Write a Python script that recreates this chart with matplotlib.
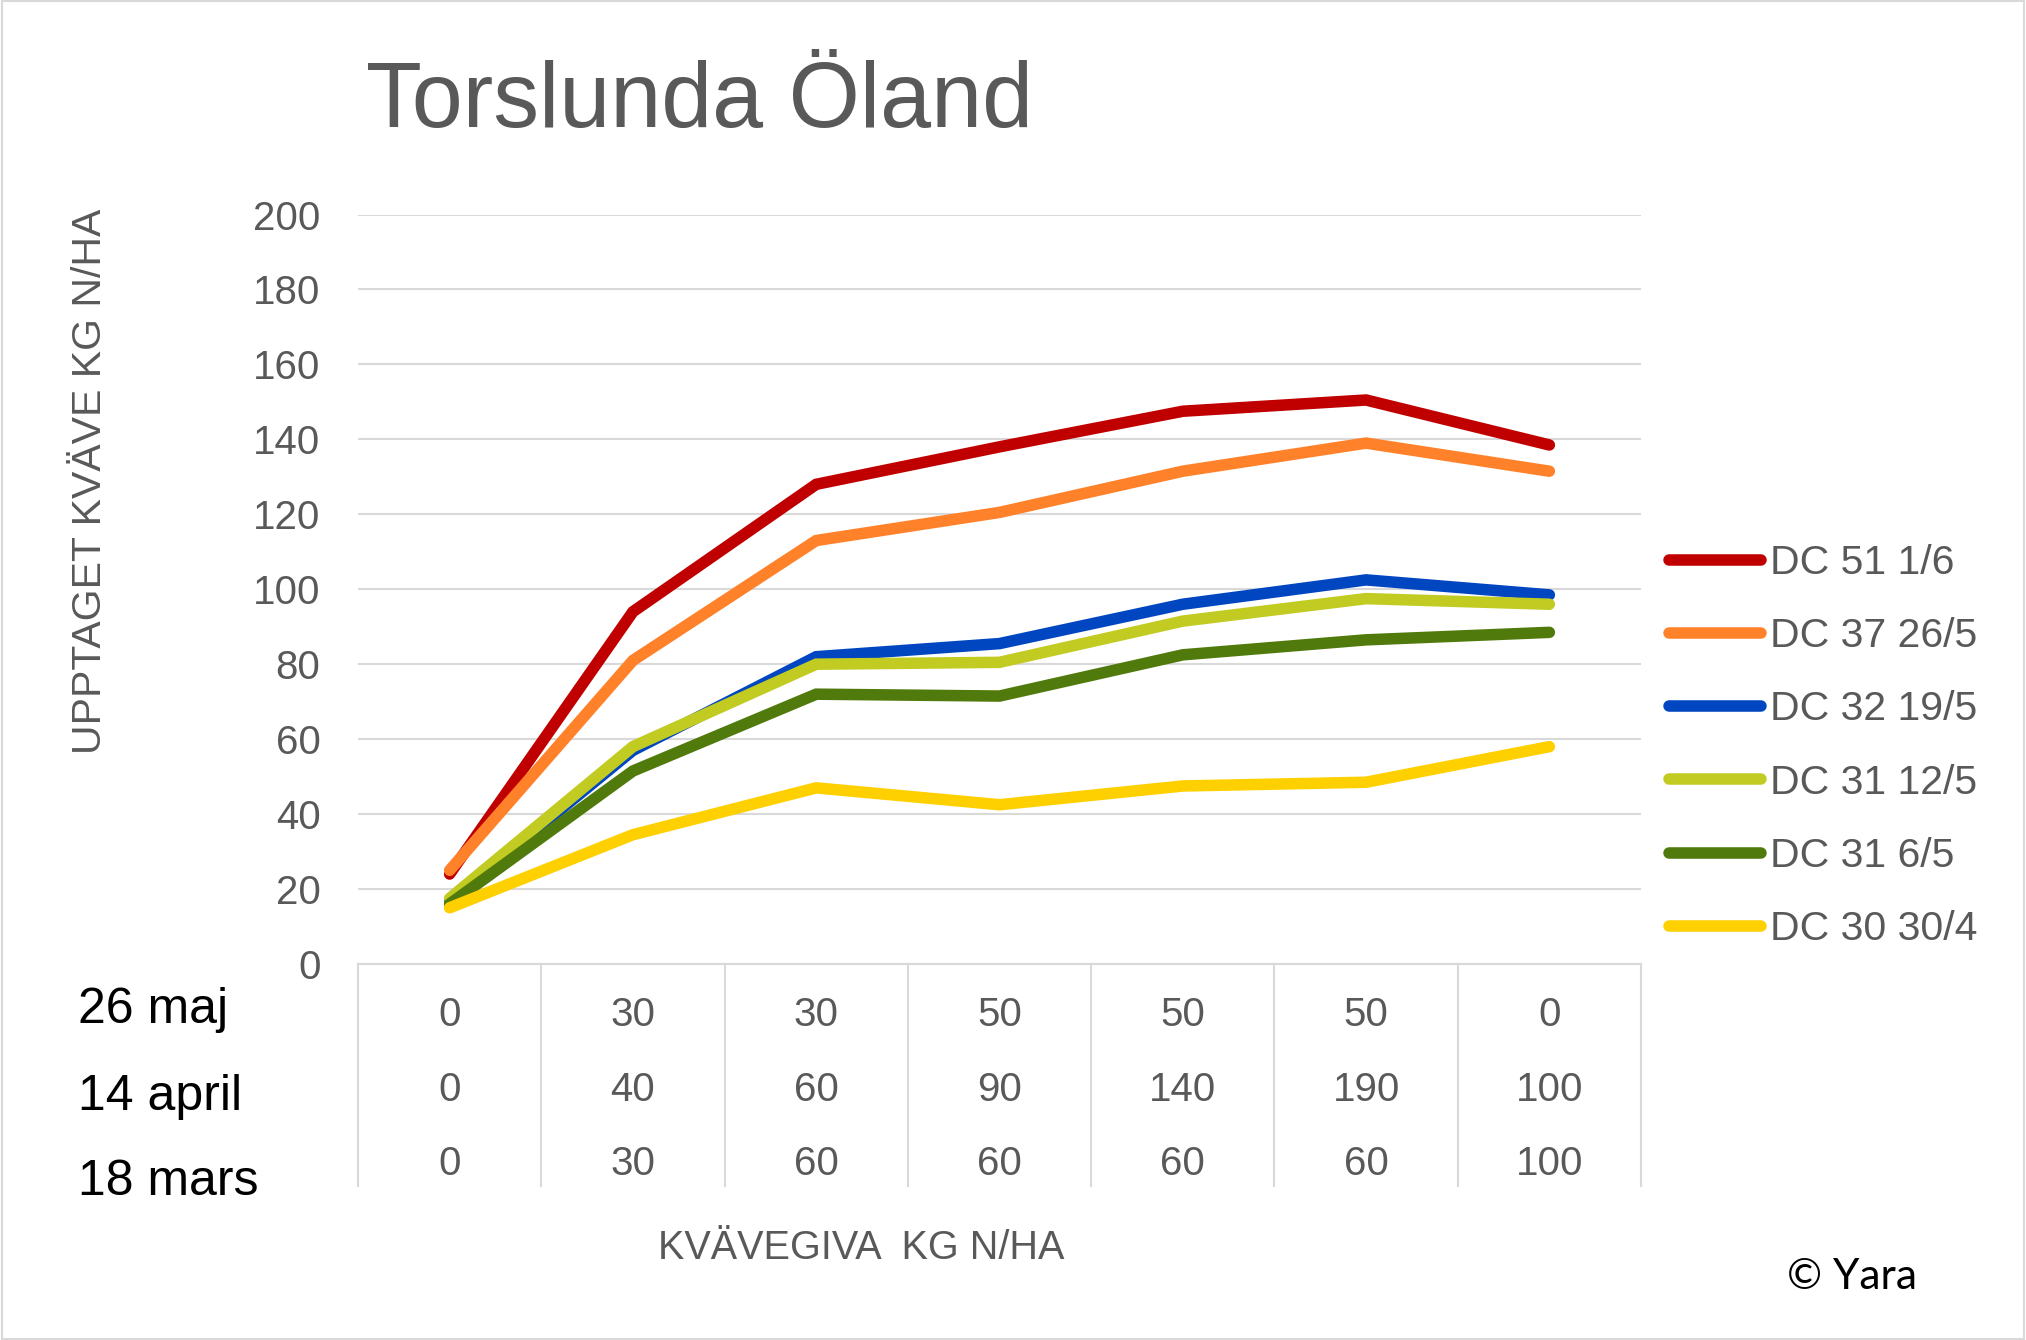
import matplotlib
matplotlib.use("Agg")
import matplotlib.pyplot as plt
import matplotlib.transforms as mtransforms

plt.rcParams['font.family'] = ['Liberation Sans', 'DejaVu Sans']

# Values
series_labels = ["DC 51 1/6", "DC 37 26/5", "DC 32 19/5", "DC 31 12/5", "DC 31 6/5", "DC 30 30/4"]
dc51 = [24, 94, 128, 138, 147.5, 150.5, 138.5]
dc37 = [25, 81, 113, 120.5, 131.5, 139, 131.5]
dc32 = [17, 57, 82, 85.5, 96, 102.5, 98.5]
dc31_12 = [17.5, 58, 80, 80.5, 91.5, 97.5, 96]
dc31_6 = [16, 51.5, 72, 71.5, 82.5, 86.5, 88.5]
dc30 = [15, 34.5, 47, 42.5, 47.5, 48.5, 58]
series_colors = ["#C00000", "#FF822A", "#0046C0", "#C2CB22", "#507A0B", "#FFD000"]

row_labels = ["26 maj", "14 april", "18 mars"]
giva_26maj = ["0", "30", "30", "50", "50", "50", "0"]
giva_14apr = ["0", "40", "60", "90", "140", "190", "100"]
giva_18mar = ["0", "30", "60", "60", "60", "60", "100"]

W, H = 2026, 1340
fig = plt.figure(figsize=(W / 100, H / 100), dpi=100)

# outer frame
fig.patches.append(plt.Rectangle((0.001, 0.001), 0.998, 0.998, transform=fig.transFigure,
                                 fill=False, edgecolor="#D9D9D9", linewidth=1.5))

left, right, top, bottom = 358, 1641, 214.5, 964
ax = fig.add_axes([left / W, 1 - bottom / H, (right - left) / W, (bottom - top) / H])

x = list(range(len(dc51)))
all_series = [dc51, dc37, dc32, dc31_12, dc31_6, dc30]
for vals, col, lab in zip(all_series, series_colors, series_labels):
    ax.plot(x, vals, color=col, linewidth=8.3, solid_capstyle="round",
            solid_joinstyle="miter", label=lab, zorder=3)

ax.set_xlim(-0.5, 6.5)
ax.set_ylim(0, 200)
ax.set_yticks(range(0, 201, 20))
ax.set_xticks([])
ax.grid(axis="y", color="#D9D9D9", linewidth=1.5)
ax.set_axisbelow(True)
for s in ["left", "right", "top"]:
    ax.spines[s].set_visible(False)
ax.spines["bottom"].set_color("#D9D9D9")
ax.spines["bottom"].set_linewidth(1.5)
ax.tick_params(axis="y", length=0, pad=27, labelsize=29, labelcolor="#595959")

# category table below the axis
trans = mtransforms.blended_transform_factory(ax.transData, ax.transAxes)
table_bottom = (bottom - 1186) / (bottom - top)
for b in range(len(x) + 1):
    ax.plot([b - 0.5, b - 0.5], [0, table_bottom], transform=trans, color="#D9D9D9",
            linewidth=1.5, clip_on=False)

row_y = [(bottom - 1015) / (bottom - top), (bottom - 1090) / (bottom - top),
         (bottom - 1164) / (bottom - top)]
for ry, row in zip(row_y, [giva_26maj, giva_14apr, giva_18mar]):
    for i, v in enumerate(row):
        ax.text(i, ry, v, transform=trans, ha="center", va="center",
                fontsize=29, color="#595959")

for lab, by in zip(row_labels, [1023, 1110, 1195]):
    fig.text(77.5 / W, 1 - by / H, lab, ha="left", va="baseline", fontsize=36, color="black")

fig.text(658 / W, 1 - 1248 / H, "KVÄVEGIVA  KG N/HA", ha="left", va="center",
         fontsize=28.5, color="#595959")
fig.text(90 / W, 1 - 481 / H, "UPPTAGET KVÄVE KG N/HA", rotation=90, ha="center",
         va="center", fontsize=29.5, color="#595959")

fig.text(366 / W, 1 - 127 / H, "Torslunda Öland", ha="left", va="baseline",
         fontsize=66, color="#595959")

fig.text(1787 / W, 1 - 1277 / H, "© Yara", ha="left", va="center",
         fontsize=30.5, color="black", family=["Lato", "DejaVu Sans"])

leg = ax.legend(loc="upper left", bbox_to_anchor=(1669 / W, 1 - 544 / H),
                bbox_transform=fig.transFigure, frameon=False, fontsize=29.5,
                handlelength=2.24, handletextpad=0.22, labelspacing=0.86,
                borderaxespad=0, borderpad=0)
for t in leg.get_texts():
    t.set_color("#595959")
for h in leg.get_lines():
    h.set_solid_capstyle("round")

fig.savefig("out.png", dpi=100)
